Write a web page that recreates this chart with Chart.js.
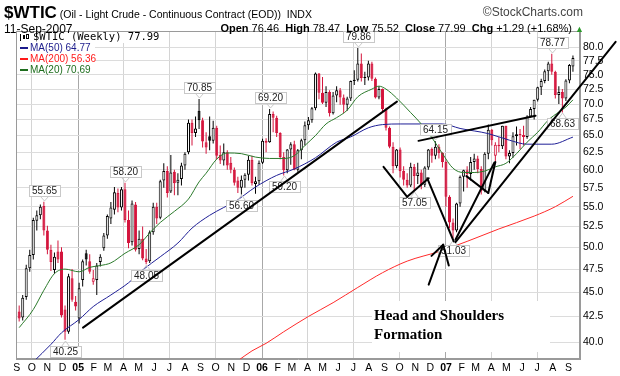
<!DOCTYPE html>
<html>
<head>
<meta charset="utf-8">
<script src="https://cdn.jsdelivr.net/npm/chart.js@4.4.0/dist/chart.umd.min.js"></script>
<style>
  body { margin: 0; background: #fff; }
  #wrap { position: relative; width: 620px; height: 376px; font-family: 'Liberation Sans', Arial, sans-serif; color: #000; }
  #wrap canvas { position: absolute; left: 0; top: 0; }
  .hd { position: absolute; white-space: nowrap; line-height: 1; }
</style>
</head>
<body>
<div id="wrap">
  <canvas id="oilChart" width="620" height="376"></canvas>
  <div class="hd" style="left:4px; top:4px; font-size:10.5px;"><b style="font-size:17px;">$WTIC</b> (Oil - Light Crude - Continuous Contract (EOD))&nbsp; INDX</div>
  <div class="hd" style="right:37px; top:6px; font-size:12px; color:#444;">&copy;StockCharts.com</div>
  <div class="hd" style="left:4px; top:23px; font-size:12px;">11-Sep-2007</div>
  <div class="hd" style="right:36px; top:23px; font-size:11px;"><b>Open</b> 76.46 &nbsp;<b>High</b> 78.47 &nbsp;<b>Low</b> 75.52 &nbsp;<b>Close</b> 77.99 &nbsp;<b>Chg</b> +1.29 (+1.68%) <span style="color:#2a9a2a; font-size:9px;">&#9650;</span></div>
</div>
<script>
// weekly bars, first week starts Mon 6-Sep-2004
const weekStart = new Date(2004, 8, 6);

const opens = [
  43.0, 42.4, 44.5, 47.6, 49.1, 53.2, 53.9, 55.1, 52.0, 49.7,
  47.4, 49.5, 49.5, 43.2, 41.0, 46.5, 44.0, 42.3, 46.3, 49.3,
  48.4, 46.1, 46.3, 48.3, 49.9, 51.4, 53.5, 54.6, 56.8, 54.9,
  57.3, 53.3, 50.6, 55.3, 49.8, 51.0, 48.7, 48.4, 51.8, 55.0,
  53.6, 58.5, 59.8, 57.0, 59.7, 58.2, 58.7, 60.6, 62.5, 67.0,
  65.4, 68.9, 67.4, 64.0, 64.9, 64.2, 66.2, 62.1, 61.3, 62.5,
  61.0, 60.0, 58.5, 57.5, 58.6, 59.3, 61.4, 58.0, 58.4, 61.0,
  64.2, 64.0, 68.4, 67.8, 65.4, 61.8, 59.9, 62.9, 63.7, 60.0,
  62.8, 64.3, 66.6, 67.4, 69.3, 75.2, 71.9, 70.2, 72.0, 68.5,
  71.4, 72.3, 71.1, 69.9, 70.9, 73.9, 74.1, 77.0, 74.4, 74.5,
  77.0, 74.3, 71.1, 72.5, 69.2, 66.2, 63.3, 60.5, 62.9, 59.8,
  58.6, 57.8, 60.4, 59.1, 59.6, 57.9, 60.3, 63.0, 62.0, 63.3,
  62.4, 61.1, 56.3, 53.0, 52.0, 55.4, 59.0, 59.9, 59.4, 61.1,
  61.6, 60.1, 57.1, 62.3, 65.9, 62.0, 63.6, 63.4, 66.5, 61.9,
  62.4, 64.9, 65.2, 65.1, 64.8, 68.0, 69.2, 70.7, 72.8, 73.9,
  75.6, 77.0, 75.5, 71.5, 72.0, 70.9, 74.0, 76.46
];
const highs = [
  43.6, 44.7, 48.0, 49.7, 53.6, 54.5, 55.3, 55.65, 52.6, 50.3,
  49.4, 50.8, 50.0, 43.6, 47.0, 47.5, 44.6, 46.0, 48.6, 49.7,
  49.2, 47.4, 48.2, 49.2, 51.7, 54.0, 55.6, 57.6, 57.4, 57.6,
  58.2, 54.5, 55.8, 55.6, 52.0, 52.5, 49.8, 52.0, 55.5, 55.5,
  58.6, 60.9, 60.5, 62.1, 60.0, 59.5, 61.0, 62.5, 67.5, 67.5,
  68.0, 70.85, 67.8, 65.5, 68.0, 67.3, 66.5, 63.5, 63.8, 62.8,
  61.8, 60.3, 59.0, 59.2, 59.5, 62.0, 62.0, 59.0, 61.3, 64.5,
  64.6, 69.2, 68.8, 68.1, 65.5, 62.5, 63.0, 64.0, 64.2, 63.0,
  64.5, 67.2, 67.9, 69.5, 75.4, 75.3, 74.6, 73.0, 72.3, 72.0,
  73.0, 72.7, 71.6, 71.2, 74.0, 75.8, 79.86, 78.8, 75.5, 77.5,
  77.3, 74.5, 73.0, 72.6, 69.4, 66.4, 64.0, 63.0, 63.2, 60.5,
  59.5, 61.0, 60.8, 61.0, 60.0, 60.5, 63.0, 63.2, 64.15, 63.7,
  62.5, 61.3, 56.5, 53.5, 55.5, 59.2, 60.0, 60.5, 61.8, 62.3,
  62.0, 60.5, 62.5, 66.7, 66.0, 64.0, 64.8, 66.5, 66.5, 62.8,
  65.5, 66.4, 66.0, 66.5, 68.2, 69.5, 70.7, 72.9, 74.3, 75.9,
  77.3, 78.77, 75.7, 73.0, 72.5, 74.2, 76.9, 78.47
];
const lows = [
  42.0, 42.1, 44.2, 47.2, 48.6, 52.0, 53.4, 51.4, 49.2, 47.3,
  47.0, 48.2, 42.4, 40.25, 40.8, 44.0, 43.1, 41.8, 45.6, 47.9,
  47.0, 45.8, 44.7, 47.8, 49.6, 51.0, 52.8, 54.0, 54.3, 54.5,
  53.0, 49.9, 50.2, 49.5, 49.2, 48.5, 48.05, 48.2, 51.5, 52.8,
  53.4, 57.5, 56.2, 56.8, 56.5, 56.5, 57.8, 60.0, 62.2, 63.5,
  64.8, 66.0, 63.2, 62.3, 62.8, 63.8, 61.5, 60.8, 60.6, 60.0,
  59.5, 57.8, 56.8, 56.6, 57.5, 58.5, 57.8, 56.7, 57.9, 60.8,
  62.5, 63.9, 65.5, 64.8, 61.5, 59.2, 59.5, 60.7, 59.9, 59.7,
  61.5, 63.5, 65.9, 67.0, 69.0, 70.8, 70.0, 69.5, 68.0, 68.3,
  70.3, 69.9, 68.5, 68.9, 70.5, 73.2, 73.8, 73.8, 73.2, 74.0,
  73.9, 70.9, 70.8, 68.6, 65.8, 63.1, 59.5, 60.2, 58.9, 57.8,
  57.5, 57.6, 57.05, 58.0, 57.3, 57.6, 60.0, 61.0, 61.5, 61.6,
  60.3, 55.0, 52.3, 51.03, 51.8, 55.0, 57.0, 57.5, 58.5, 60.0,
  59.5, 56.6, 56.9, 61.5, 63.5, 61.2, 62.5, 63.0, 61.5, 60.9,
  61.7, 63.5, 63.0, 63.5, 64.5, 67.8, 67.5, 70.4, 71.5, 73.5,
  73.9, 75.0, 70.9, 70.0, 68.63, 70.5, 73.5, 75.52
];
const closes = [
  42.3, 44.4, 47.6, 49.1, 53.3, 53.9, 55.0, 52.0, 49.7, 48.3,
  48.9, 48.6, 42.6, 41.0, 46.7, 44.2, 43.5, 45.4, 48.4, 48.6,
  47.2, 46.5, 47.9, 48.9, 51.4, 53.8, 54.9, 56.9, 54.9, 57.3,
  53.3, 50.5, 55.4, 49.7, 51.0, 48.7, 48.3, 51.8, 55.0, 53.5,
  58.4, 59.8, 56.8, 59.6, 58.1, 58.6, 60.6, 62.3, 67.0, 65.4,
  66.1, 67.4, 64.1, 63.2, 64.2, 66.2, 62.0, 61.3, 62.5, 60.6,
  60.0, 58.2, 57.5, 58.6, 59.3, 61.4, 58.1, 58.4, 61.0, 64.2,
  63.9, 68.4, 67.8, 65.4, 61.8, 59.9, 62.9, 63.7, 60.0, 62.8,
  64.3, 66.6, 67.4, 69.3, 75.2, 71.9, 70.2, 72.0, 68.5, 71.4,
  72.3, 71.1, 69.9, 70.9, 73.9, 74.1, 77.0, 74.4, 74.5, 77.0,
  74.3, 71.1, 72.5, 69.2, 66.2, 63.3, 60.5, 62.9, 59.8, 58.6,
  57.8, 60.4, 59.1, 59.6, 57.9, 60.3, 62.9, 62.0, 63.3, 62.4,
  61.1, 56.3, 53.0, 52.0, 55.4, 59.0, 59.9, 59.4, 61.1, 61.6,
  60.1, 57.1, 62.3, 65.9, 64.3, 63.6, 63.4, 66.5, 61.9, 62.4,
  64.9, 65.2, 65.1, 64.8, 68.0, 69.2, 70.7, 72.8, 73.9, 75.6,
  77.0, 75.5, 71.5, 72.0, 70.9, 74.0, 76.7, 77.99
];

// moving averages: [week, value]
const ma20 = [
  [0, 41.4], [4, 43.2], [7, 45.2], [10, 47.0], [13, 47.5], [17, 47.2], [20, 47.7],
  [23, 47.9], [26, 48.2], [30, 49.3], [34, 50.3], [37, 51.7], [40, 53.0], [44, 54.4],
  [48, 56.0], [51, 58.3], [53, 59.5], [56, 61.5], [59, 62.4], [63, 62.3], [67, 61.8],
  [71, 61.6], [75, 61.6], [78, 62.0], [81, 63.5], [84, 65.0], [87, 66.8], [90, 67.8],
  [93, 69.0], [96, 71.2], [100, 72.5], [102, 73.0], [104, 72.5], [107, 71.0], [111, 68.6],
  [114, 66.8], [117, 64.7], [120, 62.3], [123, 60.2], [126, 59.6], [129, 59.6], [132, 59.8],
  [135, 60.4], [138, 60.9], [141, 62.3], [144, 64.0], [147, 65.5], [150, 67.4], [153, 68.7],
  [155, 69.5], [157, 70.69]
];
const ma50 = [
  [4, 38.2], [9, 39.8], [12, 40.9], [17, 42.2], [21, 43.5], [26, 44.7], [31, 46.0],
  [35, 47.4], [40, 48.9], [45, 50.5], [49, 52.3], [54, 53.9], [58, 54.9], [61, 55.6],
  [67, 57.6], [73, 59.2], [78, 60.1], [84, 61.7], [90, 64.0], [94, 64.8], [99, 66.2],
  [103, 66.7], [108, 66.8], [114, 66.8], [120, 66.8], [125, 66.1], [133, 65.3], [139, 64.3],
  [144, 63.7], [151, 63.7], [157, 64.77]
];
const ma200 = [
  [62, 38.3], [66, 39.2], [70, 39.9], [75, 41.0], [82, 42.5], [89, 43.9], [96, 45.5],
  [103, 47.1], [110, 48.4], [119, 49.5], [127, 50.7], [136, 52.2], [146, 53.8], [152, 55.0],
  [157, 56.36]
];

const monthLabels = ['S', 'O', 'N', 'D',
  '05', 'F', 'M', 'A', 'M', 'J', 'J', 'A', 'S', 'O', 'N', 'D',
  '06', 'F', 'M', 'A', 'M', 'J', 'J', 'A', 'S', 'O', 'N', 'D',
  '07', 'F', 'M', 'A', 'M', 'J', 'J', 'A', 'S'];
const yTicks = [40, 42.5, 45, 47.5, 50, 52.5, 55, 57.5, 60, 62.5, 65, 67.5, 70, 72.5, 75, 77.5, 80];

// high / low callouts: [week, price, 1 = above, -1 = below]
const callouts = [
  [7, 55.65, 1], [13, 40.25, -1], [30, 58.20, 1], [36, 48.05, -1], [51, 70.85, 1],
  [63, 56.60, -1], [71, 69.20, 1], [75, 59.20, -1], [96, 79.86, 1], [112, 57.05, -1],
  [118, 64.15, 1], [123, 51.03, -1], [151, 78.77, 1], [154, 68.63, -1]
];

// hand drawn lines: [[week, price], [week, price]]
const drawnLines = [
  [[18.1, 41.4], [107.1, 70.4]],
  [[103.3, 60.4], [110.0, 56.3]],
  [[110.0, 56.3], [116.1, 58.8]],
  [[115.7, 58.8], [123.2, 50.7]],
  [[123.7, 50.9], [134.7, 61.0]],
  [[126.8, 59.1], [133.0, 56.8]],
  [[133.0, 56.8], [135.0, 61.1]],
  [[113.2, 64.2], [146.4, 68.1]],
  [[123.7, 50.6], [169.1, 81.0]],
  [[116.1, 45.8], [120.2, 50.3]],
  [[116.9, 49.0], [120.2, 50.3]],
  [[120.2, 50.3], [121.8, 47.9]]
];

const RED = '#d4143c';
const prevClose = i => (i > 0 ? closes[i - 1] : opens[i]);
const edgeColor = closes.map((c, i) => (c < prevClose(i) ? RED : '#000'));
const fillColor = closes.map((c, i) => (c >= opens[i] ? '#fff' : edgeColor[i]));

const bodies = opens.map((o, i) => ({ x: i, y: [o, closes[i]] }));
const wicks = lows.map((l, i) => ({ x: i, y: [l, highs[i]] }));
const toXY = arr => arr.map(([x, y]) => ({ x, y }));

const dayMs = 86400000;
const monthPos = monthLabels.map((_, k) => (new Date(2004, 8 + k, 1) - weekStart) / (7 * dayMs));
const monthNum = k => (8 + k) % 12;

const FONT = "'Liberation Sans', Arial, sans-serif";

const overlayPlugin = {
  id: 'overlay',
  beforeDatasetsDraw(chart) {
    const { ctx, chartArea: a } = chart;
    ctx.save();
    ctx.strokeStyle = '#9a9a9a';
    ctx.lineWidth = 1;
    ctx.strokeRect(a.left + 0.5, a.top + 0.5, a.right - a.left - 1, a.bottom - a.top - 1);
    ctx.restore();
  },
  afterDatasetsDraw(chart) {
    const { ctx, chartArea: a, scales: { x, y } } = chart;
    ctx.save();

    // callouts
    ctx.font = '10px ' + FONT;
    ctx.textAlign = 'center';
    ctx.textBaseline = 'middle';
    callouts.forEach(([w, p, dir]) => {
      const px = Math.round(x.getPixelForValue(w)) + 0.5;
      const py = Math.round(y.getPixelForValue(p));
      const txt = p.toFixed(2);
      const tw = ctx.measureText(txt).width + 6;
      const bh = 11;
      const by = dir > 0 ? py - 6 - bh : py + 6;
      ctx.fillStyle = '#fff';
      ctx.fillRect(px - tw / 2, by, tw, bh);
      ctx.strokeStyle = '#c8c8c8';
      ctx.lineWidth = 1;
      ctx.strokeRect(Math.round(px - tw / 2) + 0.5, by + 0.5, Math.round(tw), bh);
      ctx.beginPath();
      const edge = dir > 0 ? by + bh : by;
      ctx.moveTo(px - 4, edge + 0.5);
      ctx.lineTo(px, dir > 0 ? py - 1 : py + 1);
      ctx.lineTo(px + 4, edge + 0.5);
      ctx.stroke();
      ctx.fillStyle = '#222';
      ctx.fillText(txt, px, by + bh / 2 + 0.5);
    });

    // Head and Shoulders note
    ctx.fillStyle = '#fff';
    ctx.fillRect(372, 301, 178, 51);
    ctx.fillStyle = '#000';
    ctx.textAlign = 'left';
    ctx.textBaseline = 'alphabetic';
    ctx.font = "bold 15px 'Liberation Serif', 'Times New Roman', serif";
    ctx.fillText('Head and Shoulders', 374, 320);
    ctx.fillText('Formation', 374, 339);

    // legend
    ctx.fillStyle = '#fff';
    ctx.fillRect(a.left + 1, a.top + 1, 146, 11);
    ctx.fillRect(a.left + 1, a.top + 11, 78, 31);
    ctx.textBaseline = 'middle';
    const lx = a.left + 4;
    ctx.fillStyle = '#000';
    ctx.fillRect(lx, a.top + 3, 1, 7);
    ctx.fillRect(lx + 3, a.top + 4, 2, 4);
    ctx.strokeStyle = '#000';
    ctx.strokeRect(lx + 6.5, a.top + 3.5, 2, 4);
    ctx.font = "10.5px 'DejaVu Sans Mono', monospace";
    ctx.fillText('$WTIC (Weekly) 77.99', lx + 13, a.top + 6);
    ctx.font = '10px ' + FONT;
    const rows = [['MA(50) 64.77', '#1c1c8c'], ['MA(200) 56.36', '#ff1a1a'], ['MA(20) 70.69', '#1e6e1e']];
    rows.forEach(([t, c], k) => {
      const ry = a.top + 17 + k * 11;
      ctx.fillStyle = c;
      ctx.fillRect(lx, ry - 1, 8, 2);
      ctx.fillText(t, lx + 10, ry);
    });
    ctx.restore();
  },
  afterDraw(chart) {
    const { ctx, scales: { x, y } } = chart;
    ctx.save();
    ctx.strokeStyle = '#000';
    ctx.lineWidth = 2;
    ctx.lineCap = 'round';
    drawnLines.forEach(([p1, p2]) => {
      ctx.beginPath();
      ctx.moveTo(x.getPixelForValue(p1[0]), y.getPixelForValue(p1[1]));
      ctx.lineTo(x.getPixelForValue(p2[0]), y.getPixelForValue(p2[1]));
      ctx.stroke();
    });
    ctx.restore();
  }
};

const maLine = (data, color) => ({
  type: 'line',
  data: toXY(data),
  borderColor: color,
  borderWidth: 1,
  pointRadius: 0,
  cubicInterpolationMode: 'monotone',
  fill: false
});

new Chart(document.getElementById('oilChart'), {
  type: 'bar',
  data: {
    datasets: [
      maLine(ma20, '#2b7a2b'),
      maLine(ma50, '#1f1f96'),
      maLine(ma200, '#ff2a2a'),
      {
        type: 'bar',
        data: bodies,
        backgroundColor: fillColor,
        borderColor: edgeColor,
        borderWidth: 1,
        borderSkipped: false,
        barThickness: 3,
        minBarLength: 1,
        inflateAmount: 0,
        grouped: false
      },
      {
        type: 'bar',
        data: wicks,
        backgroundColor: edgeColor,
        borderWidth: 0,
        barThickness: 1,
        inflateAmount: 0,
        grouped: false
      }
    ]
  },
  options: {
    responsive: false,
    animation: false,
    devicePixelRatio: 1,
    layout: { padding: { top: 31, left: 16, right: 0, bottom: 0 } },
    plugins: { legend: { display: false }, tooltip: { enabled: false } },
    scales: {
      x: {
        type: 'linear',
        min: -0.9,
        max: 159,
        offset: false,
        afterBuildTicks: s => { s.ticks = monthPos.map(v => ({ value: v })); },
        afterFit: s => { s.height = 17; },
        grid: {
          offset: false,
          drawTicks: false,
          color: c => {
            const m = monthNum(c.index);
            if (m === 0) return '#a8a8a8';
            return m % 3 === 0 ? '#d4d4d4' : 'rgba(0,0,0,0)';
          }
        },
        border: { display: true, color: '#9a9a9a' },
        ticks: {
          autoSkip: false,
          maxRotation: 0,
          padding: 3,
          color: '#000',
          callback: (v, i) => monthLabels[i],
          font: c => ({ family: FONT, size: 10.5, weight: monthNum(c.index) === 0 ? 'bold' : 'normal' })
        }
      },
      y: {
        type: 'logarithmic',
        position: 'right',
        min: 38.46,
        max: 83.1,
        afterBuildTicks: s => { s.ticks = yTicks.map(v => ({ value: v })); },
        afterFit: s => { s.width = 40; },
        grid: { color: '#dcdcdc', drawTicks: false },
        border: { display: true, color: '#9a9a9a' },
        ticks: {
          padding: 3,
          color: '#000',
          font: { family: FONT, size: 10.5 },
          callback: v => Number(v).toFixed(1)
        }
      }
    }
  },
  plugins: [overlayPlugin]
});
</script>
</body>
</html>
